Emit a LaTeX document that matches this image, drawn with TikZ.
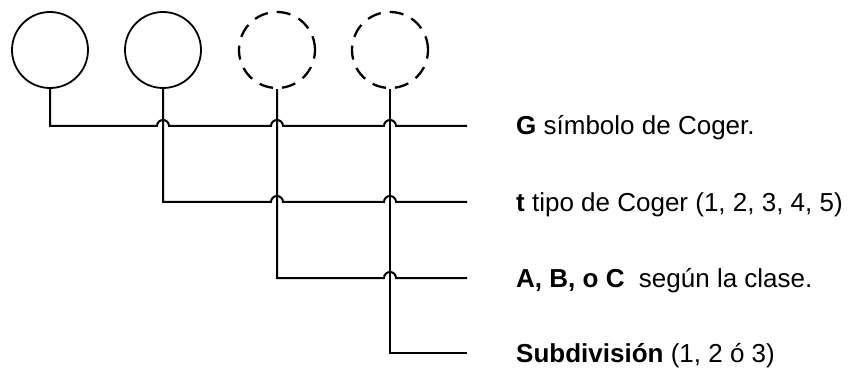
\documentclass[tikz,border=0pt]{standalone}
\usepackage{fontspec}
\setmainfont{Liberation Sans}
\tikzstyle{glyph}=[circle,draw,line width=1.8pt,minimum size=76pt,inner sep=0pt]
\tikzstyle{ghost}=[glyph,line width=2.3pt,dash pattern=on 14pt off 9pt]
\tikzstyle{wire}=[line width=2pt]
\tikzstyle{legend}=[anchor=base west,inner sep=0pt,font=\fontsize{26}{30}\selectfont]

\begin{document}
\begin{tikzpicture}[x=1pt,y=1pt]
	\useasboundingbox (0,0) rectangle (853,367);

	\node[glyph] (c1) at (50,317) {};
	\node[glyph] (c2) at (163,317) {};
	\node[ghost] (c3) at (277,317) {};
	\node[ghost] (c4) at (390,317) {};

	\coordinate (e1) at (467,241);
	\coordinate (e2) at (467,165);
	\coordinate (e3) at (467,89);
	\coordinate (e4) at (467,14);

	\coordinate (x12) at (c2.south |- e1);
	\coordinate (x13) at (c3.south |- e1);
	\coordinate (x14) at (c4.south |- e1);
	\coordinate (x23) at (c3.south |- e2);
	\coordinate (x24) at (c4.south |- e2);
	\coordinate (x34) at (c4.south |- e3);

	\draw[wire] (c1.south) |- ([xshift=-6pt]x12) arc (180:0:6) -- ([xshift=-6pt]x13) arc (180:0:6) -- ([xshift=-6pt]x14) arc (180:0:6) -- (e1);
	\draw[wire] (c2.south) |- ([xshift=-6pt]x23) arc (180:0:6) -- ([xshift=-6pt]x24) arc (180:0:6) -- (e2);
	\draw[wire] (c3.south) |- ([xshift=-6pt]x34) arc (180:0:6) -- (e3);
	\draw[wire] (c4.south) |- (e4);

	\node[legend] (t1) at (516,232) {\textbf{G} símbolo de Coger.};
	\node[legend] (t2) at (516,156) {\textbf{t} tipo de Coger (1, 2, 3, 4, 5)};
	\node[legend] (t3) at (516,80) {\textbf{A, B, o C}\ \ según la clase.};
	\node[legend] (t4) at (516,5) {\textbf{Subdivisión} (1, 2 ó 3)};
\end{tikzpicture}
\end{document}
